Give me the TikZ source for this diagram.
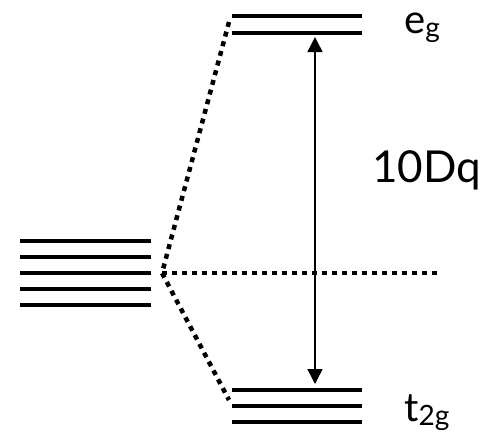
\documentclass[tikz,border=0pt]{standalone}
\usepackage{fontspec}
\setmainfont{Lato}
\usetikzlibrary{arrows.meta, positioning}
\tikzset{
	level/.style={line width=4.5pt},
	dotline/.style={line width=4.5pt, dash pattern=on 5pt off 5pt}
}
\tikzset{
	lbl/.style={anchor=base west, inner sep=0pt, font=\fontsize{40}{44}\selectfont}
}
\newcommand{\lowsub}[1]{\raisebox{-0.12em}{\fontsize{28}{30}\selectfont #1}}
\begin{document}
\begin{tikzpicture}[x=1pt, y=-1pt, >={Triangle[length=15pt, width=15pt]}]
      \useasboundingbox (0,0) rectangle (481,431);
      % free ion, five-fold
      \foreach \y in {241,257,273,289,305}
        \draw[level] (20,\y) -- (151,\y);
      \coordinate (split) at (162,273);
      % e_g pair
      \draw[level] (232,16) -- (362,16);
      \draw[level] (232,33) -- (362,33);
      \coordinate (egend) at (229,22);
      % t_2g triple
      \draw[level] (232,390) -- (362,390);
      \draw[level] (232,406) -- (362,406);
      \draw[level] (232,422) -- (362,422);
      \coordinate (tend) at (229,400);
      % barycentre
      \coordinate (bary) at (437,273);
      \draw[dotline] (egend) -- (split) -- (tend);
      \draw[dotline] (split) -- (bary);
      % splitting
      \coordinate (top) at (315,37);
      \coordinate (bot) at (315,384);
      \draw[line width=1.5pt, <->] (top) -- (bot);
      \node[lbl] (eg) at (404,33) {e\lowsub{g}};
      \node[lbl] (tg) at (404,421) {t\lowsub{2g}};
      \node[lbl, font=\fontsize{44}{50}\selectfont] (dq) at (372,182) {10Dq};
    \end{tikzpicture}
\end{document}
